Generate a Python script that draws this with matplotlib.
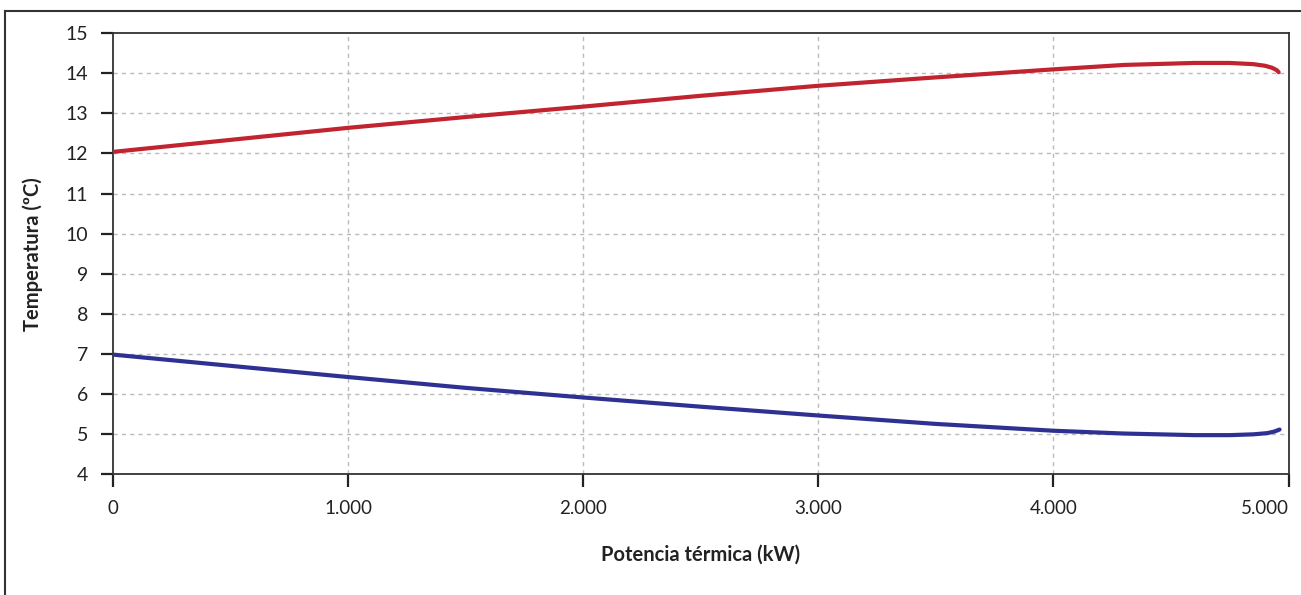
import matplotlib.pyplot as plt
from matplotlib.lines import Line2D

# Data
potencia = [0, 500, 1000, 1500, 2000, 2500, 3000, 3500, 4000, 4300, 4600, 4750, 4850, 4900, 4930, 4950, 4958]
temp_roja = [12.04, 12.34, 12.64, 12.91, 13.17, 13.44, 13.69, 13.90, 14.10, 14.21, 14.26, 14.26, 14.23, 14.19, 14.14, 14.08, 14.03]

potencia_azul = [0, 500, 1000, 1500, 2000, 2500, 3000, 3500, 4000, 4300, 4600, 4750, 4850, 4910, 4940, 4962]
temp_azul = [6.98, 6.70, 6.42, 6.15, 5.91, 5.68, 5.46, 5.25, 5.08, 5.01, 4.97, 4.97, 4.99, 5.02, 5.06, 5.11]

x_ticks = [0, 1000, 2000, 3000, 4000, 5000]
x_labels = ['0', '1.000', '2.000', '3.000', '4.000', '5.000']
y_ticks = list(range(4, 16))

plt.rcParams['font.family'] = ['Lato', 'DejaVu Sans']

W, H = 1301, 595
fig = plt.figure(figsize=(W / 100, H / 100), dpi=100)
ax = fig.add_axes([113 / W, 1 - 474 / H, (1288.5 - 113) / W, (474 - 33.3) / H])

# Curves
ax.plot(potencia, temp_roja, color='#C1232F', linewidth=3, solid_capstyle='round', zorder=3)
ax.plot(potencia_azul, temp_azul, color='#2E3192', linewidth=3, solid_capstyle='round', zorder=3)

ax.set_xlim(0, 5000)
ax.set_ylim(4, 15)
ax.set_xticks(x_ticks)
ax.set_xticklabels(x_labels, fontsize=13.5)
ax.xaxis.get_majorticklabels()[-1].set_horizontalalignment('right')
ax.set_yticks(y_ticks)
ax.set_yticklabels([str(v) for v in y_ticks], fontsize=14)

# Dashed grid (skip the ones lying on the frame)
for v in x_ticks[1:-1]:
    ax.axvline(v, color='#BBBBBB', linewidth=1, linestyle=(0, (3, 3)), zorder=1)
for v in y_ticks[1:-1]:
    ax.axhline(v, color='#BBBBBB', linewidth=1, linestyle=(0, (3, 3)), zorder=1)

for s in ax.spines.values():
    s.set_color('#333333')
    s.set_linewidth(1.3)

ax.tick_params(axis='x', direction='out', length=9, width=1.6, color='#222222', pad=10, labelcolor='#222222')
ax.tick_params(axis='y', direction='out', length=9, width=1.6, color='#222222', pad=9, labelcolor='#222222')

ax.set_xlabel('Potencia térmica (kW)', fontsize=14.5, fontweight='bold', color='#222222', labelpad=20)
ax.set_ylabel('Temperatura (ºC)', fontsize=14.5, fontweight='bold', color='#222222', labelpad=16)

# Outer frame (left and top edges)
fig.add_artist(Line2D([5 / W, 5 / W], [0, 1 - 11 / H], transform=fig.transFigure, color='#333333', linewidth=1.5))
fig.add_artist(Line2D([5 / W, 1], [1 - 11 / H, 1 - 11 / H], transform=fig.transFigure, color='#333333', linewidth=1.5))

fig.savefig('out.png', dpi=100)
